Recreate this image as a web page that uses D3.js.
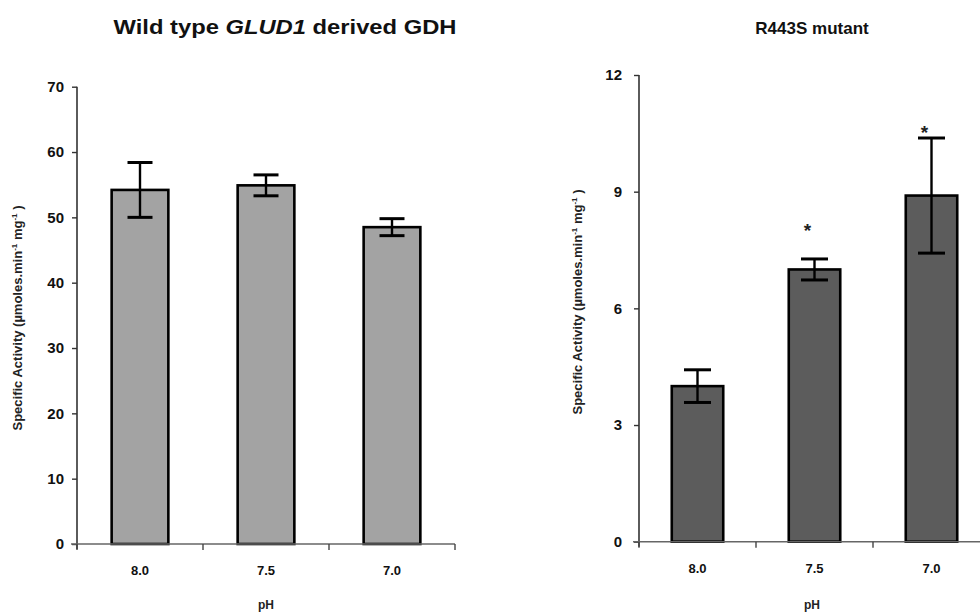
<!DOCTYPE html>
<html><head><meta charset="utf-8">
<script src="https://cdn.jsdelivr.net/npm/d3@7"></script>
<style>
html,body{margin:0;padding:0;background:#fff;}
svg{display:block;font-family:"Liberation Sans",Arial,sans-serif;}
</style></head>
<body>
<svg id="chart" width="980" height="612"></svg>
<script>
const categories = ["8.0", "7.5", "7.0"];
const wildValues = [54.2, 54.9, 48.5];
const wildErrors = [4.2, 1.6, 1.3];
const mutantValues = [4.0, 7.0, 8.9];
const mutantErrors = [0.42, 0.27, 1.48];
const mutantStars = [null, 8.1, 10.6];
const wildTicks = [0, 10, 20, 30, 40, 50, 60, 70];
const mutantTicks = [0, 3, 6, 9, 12];

const svg = d3.select("#chart");

function panel(cfg) {
  const g = svg.append("g");
  const x = d3.scaleBand().domain(categories).range([cfg.x0, cfg.x1])
    .paddingInner(cfg.pad).paddingOuter(cfg.pad / 2);
  const y = d3.scaleLinear().domain([0, cfg.ymax]).range([cfg.y0, cfg.y1]);

  // bars
  g.selectAll("rect.bar").data(cfg.values).enter().append("rect")
    .attr("x", (d, i) => x(categories[i]))
    .attr("y", d => y(d))
    .attr("width", x.bandwidth())
    .attr("height", d => y(0) - y(d))
    .attr("fill", cfg.fill).attr("stroke", "#000").attr("stroke-width", 2.6);

  // error bars
  const cap = cfg.cap;
  cfg.values.forEach((v, i) => {
    const cx = x(categories[i]) + x.bandwidth() / 2;
    const e = cfg.errors[i];
    g.append("line").attr("x1", cx).attr("x2", cx).attr("y1", y(v + e)).attr("y2", y(v - e))
      .attr("stroke", "#000").attr("stroke-width", 2.4);
    [v + e, v - e].forEach(w => {
      g.append("line").attr("x1", cx - cap / 2).attr("x2", cx + cap / 2).attr("y1", y(w)).attr("y2", y(w))
        .attr("stroke", "#000").attr("stroke-width", 3);
    });
  });

  // stars
  if (cfg.stars) {
    cfg.stars.forEach((s, i) => {
      if (s == null) return;
      const cx = x(categories[i]) + x.bandwidth() / 2 - 7;
      g.append("text").attr("x", cx).attr("y", y(s) + 10).attr("text-anchor", "middle")
        .attr("font-size", 19).attr("font-weight", "bold").attr("fill", "#222").text("*");
    });
  }

  // y axis
  const yAxis = g.append("g").attr("transform", `translate(${cfg.x0},0)`)
    .call(d3.axisLeft(y).tickValues(cfg.ticks).tickSize(5).tickPadding(cfg.ytp).tickFormat(d3.format("d")));
  yAxis.select(".domain").attr("d", `M0,${cfg.y1}H0V${cfg.y0 + 5}`).attr("stroke", "#333").attr("stroke-width", 1.6);
  yAxis.selectAll(".tick line").attr("stroke", "#333").attr("stroke-width", 1.4);
  yAxis.selectAll(".tick text").attr("font-size", 15).attr("font-weight", "bold").attr("fill", "#111")
    .attr("font-family", "Liberation Sans, Arial, sans-serif");

  // x axis
  const xAxis = g.append("g").attr("transform", `translate(0,${cfg.y0})`)
    .call(d3.axisBottom(x).tickSize(0).tickPadding(22));
  xAxis.select(".domain").attr("d", `M${cfg.x0 - 6},0H${cfg.x1}`).attr("stroke", "#666").attr("stroke-width", 1.6);
  xAxis.selectAll(".tick text").attr("font-size", 13).attr("font-weight", "bold").attr("fill", "#111")
    .attr("font-family", "Liberation Sans, Arial, sans-serif");
  // category separator ticks
  const bounds = categories.map(c => x(c) - x.step() * x.paddingInner() / 2).concat([cfg.x1]);
  bounds.forEach(b => {
    g.append("line").attr("x1", b).attr("x2", b).attr("y1", cfg.y0).attr("y2", cfg.y0 + 6)
      .attr("stroke", "#444").attr("stroke-width", 1.4);
  });

  // x label
  g.append("text").attr("x", cfg.pHx).attr("y", 609)
    .attr("text-anchor", "middle").attr("font-size", 12).attr("font-weight", "bold").attr("fill", "#222").text("pH");

  // y label
  const yl = g.append("text").attr("transform", `translate(${cfg.ylx},${cfg.yly}) rotate(-90)`)
    .attr("text-anchor", "middle").attr("font-size", 13).attr("font-weight", "bold").attr("fill", "#222");
  yl.append("tspan").text("Specific Activity (\u00b5moles.min");
  yl.append("tspan").attr("dy", -5).attr("font-size", 8).text("-1");
  yl.append("tspan").attr("dy", 5).text(" mg");
  yl.append("tspan").attr("dy", -5).attr("font-size", 8).text("-1");
  yl.append("tspan").attr("dy", 5).text(" )");

  // title
  const t = g.append("text").attr("x", cfg.tx).attr("y", cfg.ty).attr("text-anchor", "middle")
    .attr("font-size", cfg.tfs).attr("font-weight", "bold").attr("fill", "#111");
  if (cfg.tlen) t.attr("textLength", cfg.tlen).attr("lengthAdjust", "spacingAndGlyphs");
  cfg.title.forEach(p => t.append("tspan").attr("font-style", p.i ? "italic" : "normal").text(p.t));
}

panel({
  x0: 77, x1: 455, y0: 544, y1: 86.7, ymax: 70, pad: 0.55, fill: "#a3a3a3", cap: 25, ytp: 8,
  values: wildValues, errors: wildErrors, ticks: wildTicks, stars: null,
  ylx: 22, yly: 318, tx: 285, ty: 34, tfs: 21, tlen: 343, pHx: 266,
  title: [{t: "Wild type "}, {t: "GLUD1", i: true}, {t: " derived GDH"}]
});

panel({
  x0: 639, x1: 990, y0: 541.7, y1: 75, ymax: 12, pad: 0.56, fill: "#5c5c5c", cap: 27, ytp: 12,
  values: mutantValues, errors: mutantErrors, ticks: mutantTicks, stars: mutantStars,
  ylx: 582, yly: 302, tx: 812, ty: 34, tfs: 17, tlen: null, pHx: 812,
  title: [{t: "R443S mutant"}]
});
</script>
</body></html>
